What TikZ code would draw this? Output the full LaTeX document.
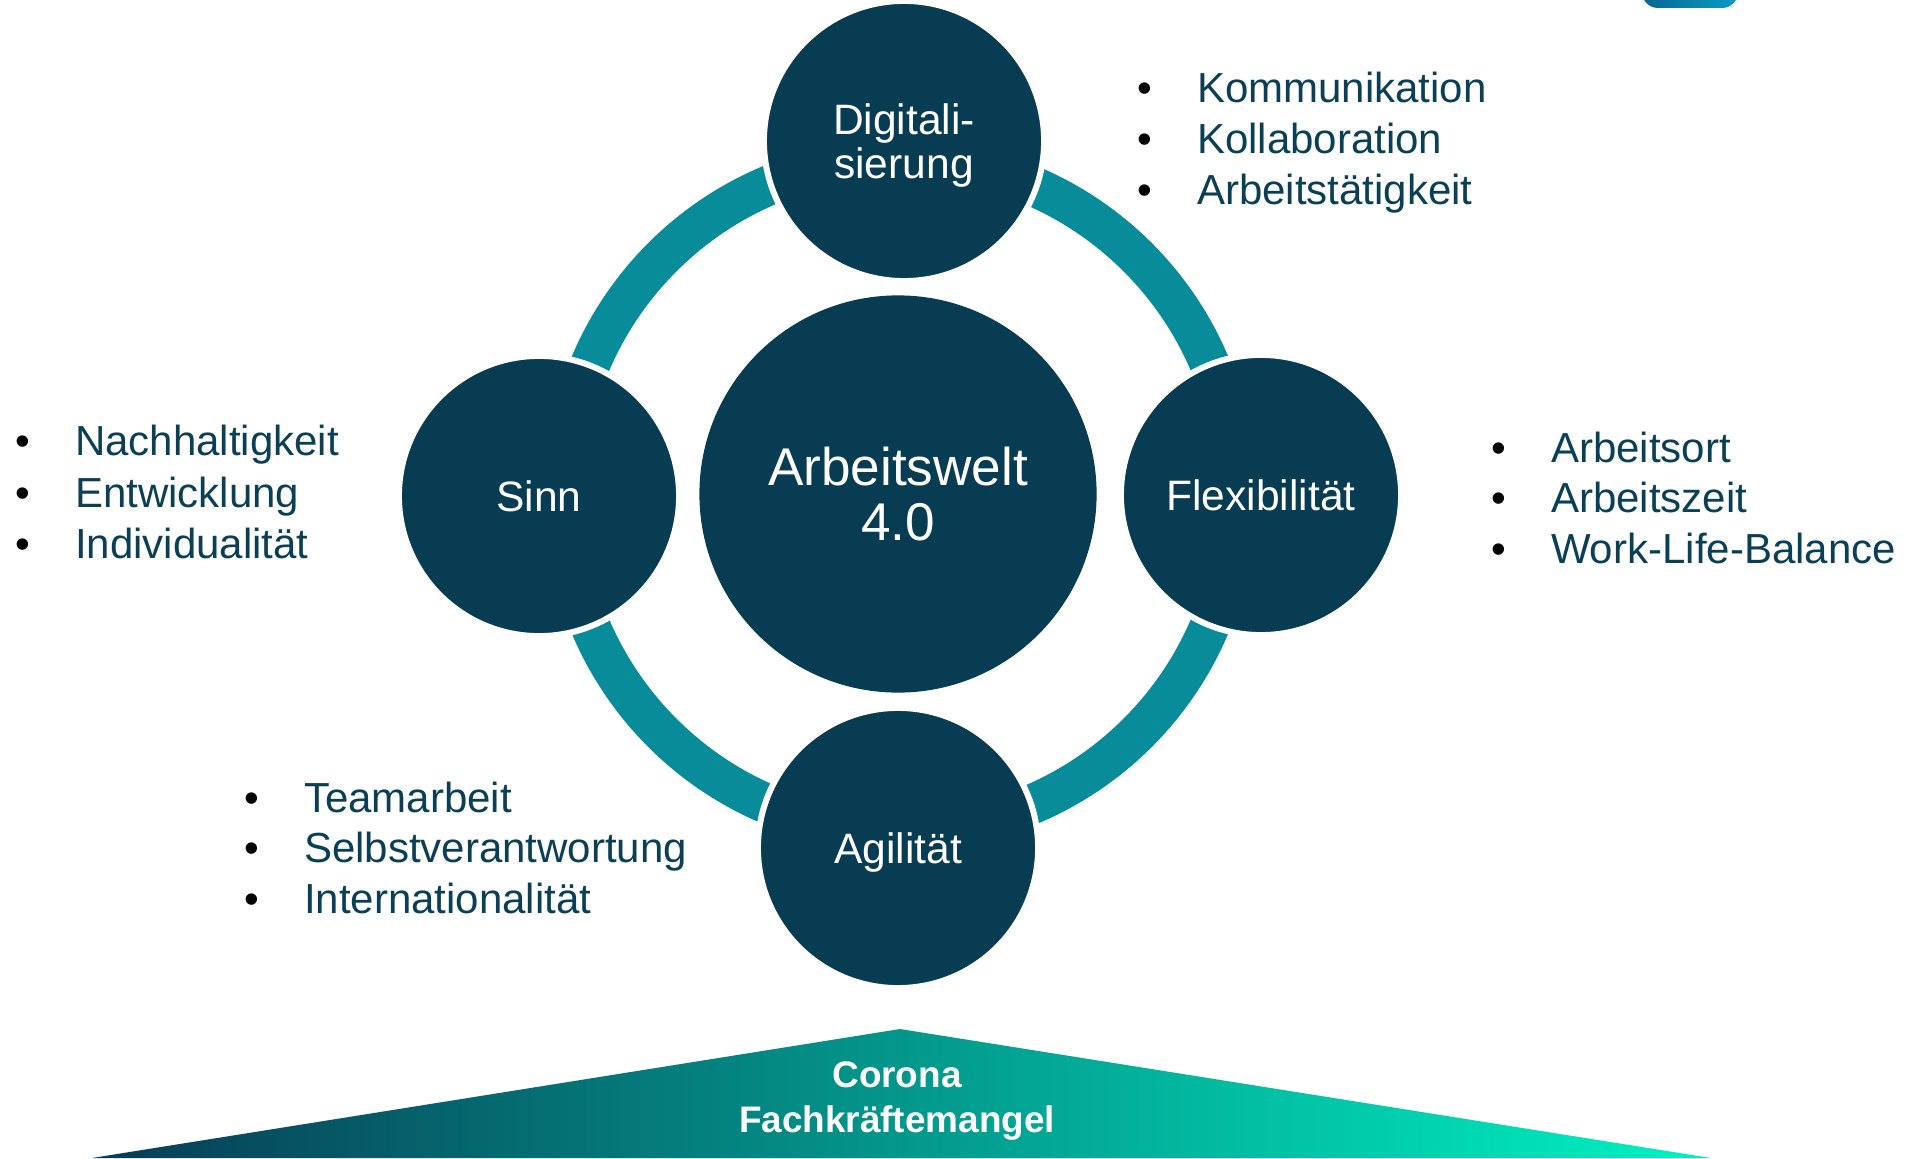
\documentclass[tikz,border=0pt]{standalone}
\usepackage{fontspec}
\setmainfont{Liberation Sans}
\usepackage{tikz}
\usetikzlibrary{shapes}
\definecolor{navyC}{HTML}{083C52}
\definecolor{tealC}{HTML}{088C99}
\definecolor{txtC}{HTML}{0B3F55}
\definecolor{gradL}{HTML}{073C55}
\definecolor{gradM}{HTML}{08999E}
\definecolor{gradR}{HTML}{00F2C2}
\definecolor{tabL}{HTML}{0A6590}
\definecolor{tabR}{HTML}{0B9CC4}
\tikzstyle{ringE}=[draw=tealC, line width=0.40cm]
\tikzstyle{hubV}=[circle, fill=navyC, minimum size=3.97cm, inner sep=0pt, outer sep=0pt, text=white, align=center, font=\fontsize{15.1pt}{15.4pt}\selectfont]
\tikzstyle{satV}=[circle, fill=navyC, draw=white, line width=0.06cm, minimum size=2.80cm, inner sep=0pt, outer sep=0pt, text=white, align=center, text depth=0pt, font=\fontsize{12.1pt}{12.5pt}\selectfont]
\tikzstyle{itemT}=[anchor=base west, inner sep=0pt, outer sep=0pt, text=txtC, font=\fontsize{11.95pt}{14.5pt}\selectfont]
\tikzstyle{crisisT}=[inner sep=0pt, text=white, align=center, font=\bfseries\fontsize{10.5pt}{12.8pt}\selectfont]
\newcommand{\bul}{\makebox[0.60cm][l]{\textcolor{black}{\textbullet}}}

\begin{document}
\begin{tikzpicture}[x=0.01cm, y=-0.01cm]
      \useasboundingbox (0,0) rectangle (1916,1158);
      % tab at the top edge
      \shade[left color=tabL, right color=tabR, rounded corners=0.16cm] (1642,-30) rectangle (1738,8);
      % bottom wedge
      \shade[left color=gradL, middle color=gradM, right color=gradR] (92,1158) -- (900,1029) -- (1711,1158) -- cycle;
      \node(crisis) [crisisT] at (897, 1101){Corona\\Fachkräftemangel};
      % ring and circles
      \coordinate(ctr) at (900, 495);
      \draw[ringE] (ctr) circle[radius=3.36cm];
      \node(hub) [hubV] at (898, 494){Arbeitswelt\\4.0};
      \node(dig) [satV] at (904, 141){Digitali-\\sierung};
      \node(sinn) [satV] at (539, 496){Sinn};
      \node(flex) [satV] at (1261, 495){Flexibilität};
      \node(agil) [satV] at (898, 848){Agilität};
      % lists
      \node(dig1) [itemT] at (1137, 103){\bul Kommunikation};
      \node(dig2) [itemT] at (1137, 154){\bul Kollaboration};
      \node(dig3) [itemT] at (1137, 205){\bul Arbeitstätigkeit};
      \node(flex1) [itemT] at (1491, 462){\bul Arbeitsort};
      \node(flex2) [itemT] at (1491, 512){\bul Arbeitszeit};
      \node(flex3) [itemT] at (1491, 563){\bul Work-Life-Balance};
      \node(sinn1) [itemT] at (15, 455){\bul Nachhaltigkeit};
      \node(sinn2) [itemT] at (15, 507){\bul Entwicklung};
      \node(sinn3) [itemT] at (15, 558){\bul Individualität};
      \node(agil1) [itemT] at (244, 812){\bul Teamarbeit};
      \node(agil2) [itemT] at (244, 862){\bul Selbstverantwortung};
      \node(agil3) [itemT] at (244, 913){\bul Internationalität};
    \end{tikzpicture}
\end{document}
